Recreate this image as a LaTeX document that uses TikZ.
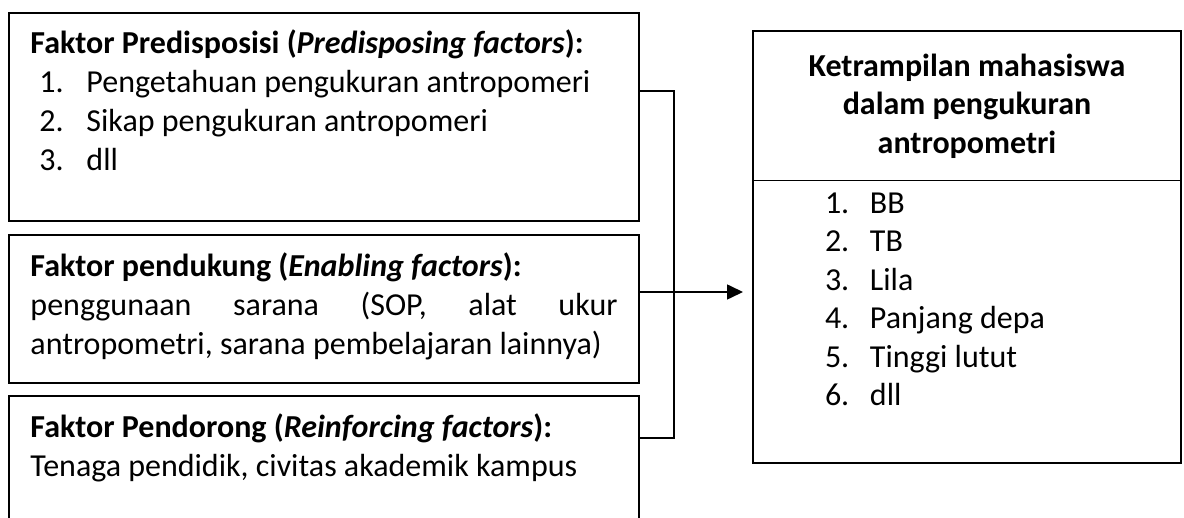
\documentclass[tikz,border=0pt]{standalone}
\usepackage{fontspec}
\setmainfont{Carlito}
\usetikzlibrary{arrows.meta,positioning,shapes.multipart}
\newcommand{\factoritem}[2]{\hspace*{9pt}\makebox[47pt][l]{#1}#2\par}
\newcommand{\skillitem}[2]{\hspace*{72pt}\makebox[45pt][l]{#1}#2\par}
\tikzset{
  factorbox/.style={draw, line width=1.6pt, inner xsep=21.5pt, inner ysep=0pt,
    outer sep=0pt, anchor=north west, font=\fontsize{32}{39}\selectfont},
  skillbox/.style={draw, line width=1.6pt, inner sep=0pt, outer sep=0pt,
    rectangle split, rectangle split parts=2, font=\fontsize{32}{38.5}\selectfont},
  link/.style={line width=1.6pt},
  arrowlink/.style={link, -{Triangle[length=16pt, width=15pt]}},
}

\begin{document}
\begin{tikzpicture}[x=1pt, y=1pt]
    \clip (0,0) rectangle (1184,-518);
    \node[factorbox] (pre) at (9,-13) {\parbox[t][208pt][t]{587pt}{\rule{0pt}{41pt}%
      \textbf{Faktor Predisposisi (\textit{Predisposing factors}):}\par
      \factoritem{1.}{Pengetahuan pengukuran antropomeri}
      \factoritem{2.}{Sikap pengukuran antropomeri}
      \factoritem{3.}{dll}}};
    \node[factorbox, below=14pt of pre] (sup) {\parbox[t][148pt][t]{587pt}{\rule{0pt}{42pt}%
      \textbf{Faktor pendukung (\textit{Enabling factors}):}\par
      penggunaan sarana (SOP, alat ukur\linebreak
      \mbox{antropometri, sarana pembelajaran lainnya)}}};
    \node[factorbox, below=13pt of sup] (rein) {\parbox[t][150pt][t]{587pt}{\rule{0pt}{42pt}%
      \textbf{Faktor Pendorong (\textit{Reinforcing factors}):}\par
      Tenaga pendidik, civitas akademik kampus}};
    \node[skillbox, below right=18pt and 114pt of pre.north east] (goal) {%
      \parbox[c][148pt][c]{428pt}{\centering\bfseries Ketrampilan mahasiswa\\ dalam pengukuran\\ antropometri}%
      \nodepart{two}\parbox[t][281pt][t]{428pt}{\rule{0pt}{32pt}%
      \skillitem{1.}{BB}
      \skillitem{2.}{TB}
      \skillitem{3.}{Lila}
      \skillitem{4.}{Panjang depa}
      \skillitem{5.}{Tinggi lutut}
      \skillitem{6.}{dll}}};
    \draw[link] ([yshift=26pt]pre.east) -- ++(35,0) |- ([yshift=-42pt]rein.north east);
    \draw[arrowlink, shorten >=10pt] ([yshift=17pt]sup.east) -- ([yshift=17pt]sup.east -| goal.west);
\end{tikzpicture}
\end{document}
